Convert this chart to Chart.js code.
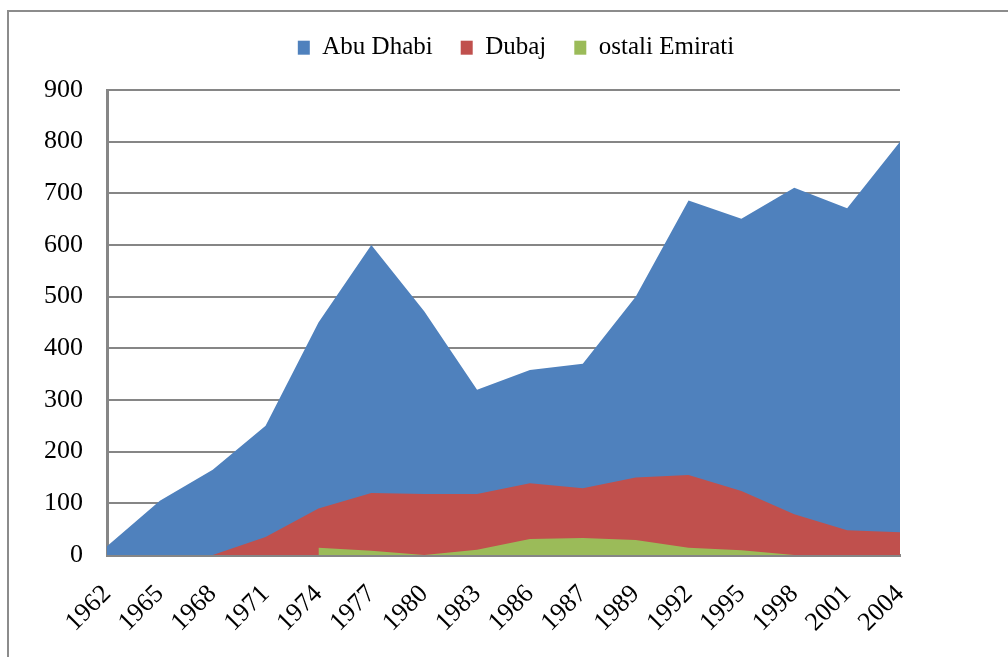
<!DOCTYPE html>
<html>
<head>
<meta charset="utf-8">
<script src="https://cdn.jsdelivr.net/npm/chart.js@4"></script>
<style>
html, body { margin: 0; padding: 0; background: #fff; }
#wrap { position: relative; width: 1008px; height: 657px; overflow: hidden; }
#frame { position: absolute; left: 7px; top: 10px; width: 1100px; height: 800px; border: 2px solid #8c8c8c; }
canvas { position: absolute; left: 0; top: 0; }
</style>
</head>
<body>
<div id="wrap">
  <div id="frame"></div>
  <canvas id="emiratiChart" width="1008" height="657"></canvas>
</div>
<script>
const years = ['1962', '1965', '1968', '1971', '1974', '1977', '1980', '1983',
               '1986', '1987', '1989', '1992', '1995', '1998', '2001', '2004'];
const abuDhabi = [17, 105, 165, 250, 450, 600, 472, 320, 358, 370, 500, 686, 651, 711, 671, 800];
const dubaj    = [null, null, 0, 35, 90, 120, 118, 118, 139, 129, 150, 155, 124, 79, 48, 44];
const ostali   = [null, null, null, null, 14, 8, 0, 10, 31, 33, 29, 14, 9, 0, 0, 0];

const serif = "'Liberation Serif', 'Times New Roman', serif";

// legenda zauzima gornjih 90px
const legendHeight = {
    id: 'legendHeight',
    beforeLayout(chart) {
        if (chart.legend && !chart.legend._fixed) {
            const fit = chart.legend.fit;
            chart.legend.fit = function () { fit.call(this); this.height = 90; };
            chart.legend._fixed = true;
        }
    }
};

function serija(label, data, color, order) {
    return {
        label: label,
        data: data,
        backgroundColor: color,
        borderColor: color,
        borderWidth: 0,
        pointRadius: 0,
        tension: 0,
        fill: 'origin',
        order: order
    };
}

const ctx = document.getElementById('emiratiChart').getContext('2d');
new Chart(ctx, {
    type: 'line',
    data: {
        labels: years,
        datasets: [
            serija('Abu Dhabi', abuDhabi, '#4f81bd', 3),
            serija('Dubaj', dubaj, '#c0504d', 2),
            serija('ostali Emirati', ostali, '#9bbb59', 1)
        ]
    },
    plugins: [legendHeight],
    options: {
        responsive: false,
        animation: false,
        layout: { padding: { left: 24, top: 0, right: 0, bottom: 0 } },
        plugins: {
            tooltip: { enabled: false },
            legend: {
                position: 'top',
                title: { display: true, text: '', padding: { top: 6, bottom: 0 }, font: { size: 1 } },
                labels: {
                    boxWidth: 12,
                    boxHeight: 14,
                    padding: 28,
                    color: '#000',
                    font: { family: serif, size: 25 },
                    sort: (a, b) => a.datasetIndex - b.datasetIndex
                }
            }
        },
        scales: {
            x: {
                z: 1,
                grid: { display: false, drawTicks: false },
                border: { display: true, color: '#868686', width: 3 },
                ticks: {
                    color: '#000',
                    font: { family: serif, size: 26 },
                    maxRotation: 45,
                    minRotation: 45,
                    autoSkip: false,
                    padding: 24
                },
                afterFit(scale) { scale.height = 102; }
            },
            y: {
                min: 0,
                max: 900,
                grid: { color: '#868686', lineWidth: 2, drawTicks: false },
                border: { display: true, color: '#868686', width: 3 },
                ticks: {
                    stepSize: 100,
                    color: '#000',
                    font: { family: serif, size: 26 },
                    padding: 24
                },
                afterFit(scale) { scale.width = 83; }
            },
            desno: {
                position: 'right',
                grid: { display: false, drawTicks: false },
                border: { display: false },
                ticks: { display: false },
                afterFit(scale) { scale.width = 108; }
            }
        }
    }
});
</script>
</body>
</html>
